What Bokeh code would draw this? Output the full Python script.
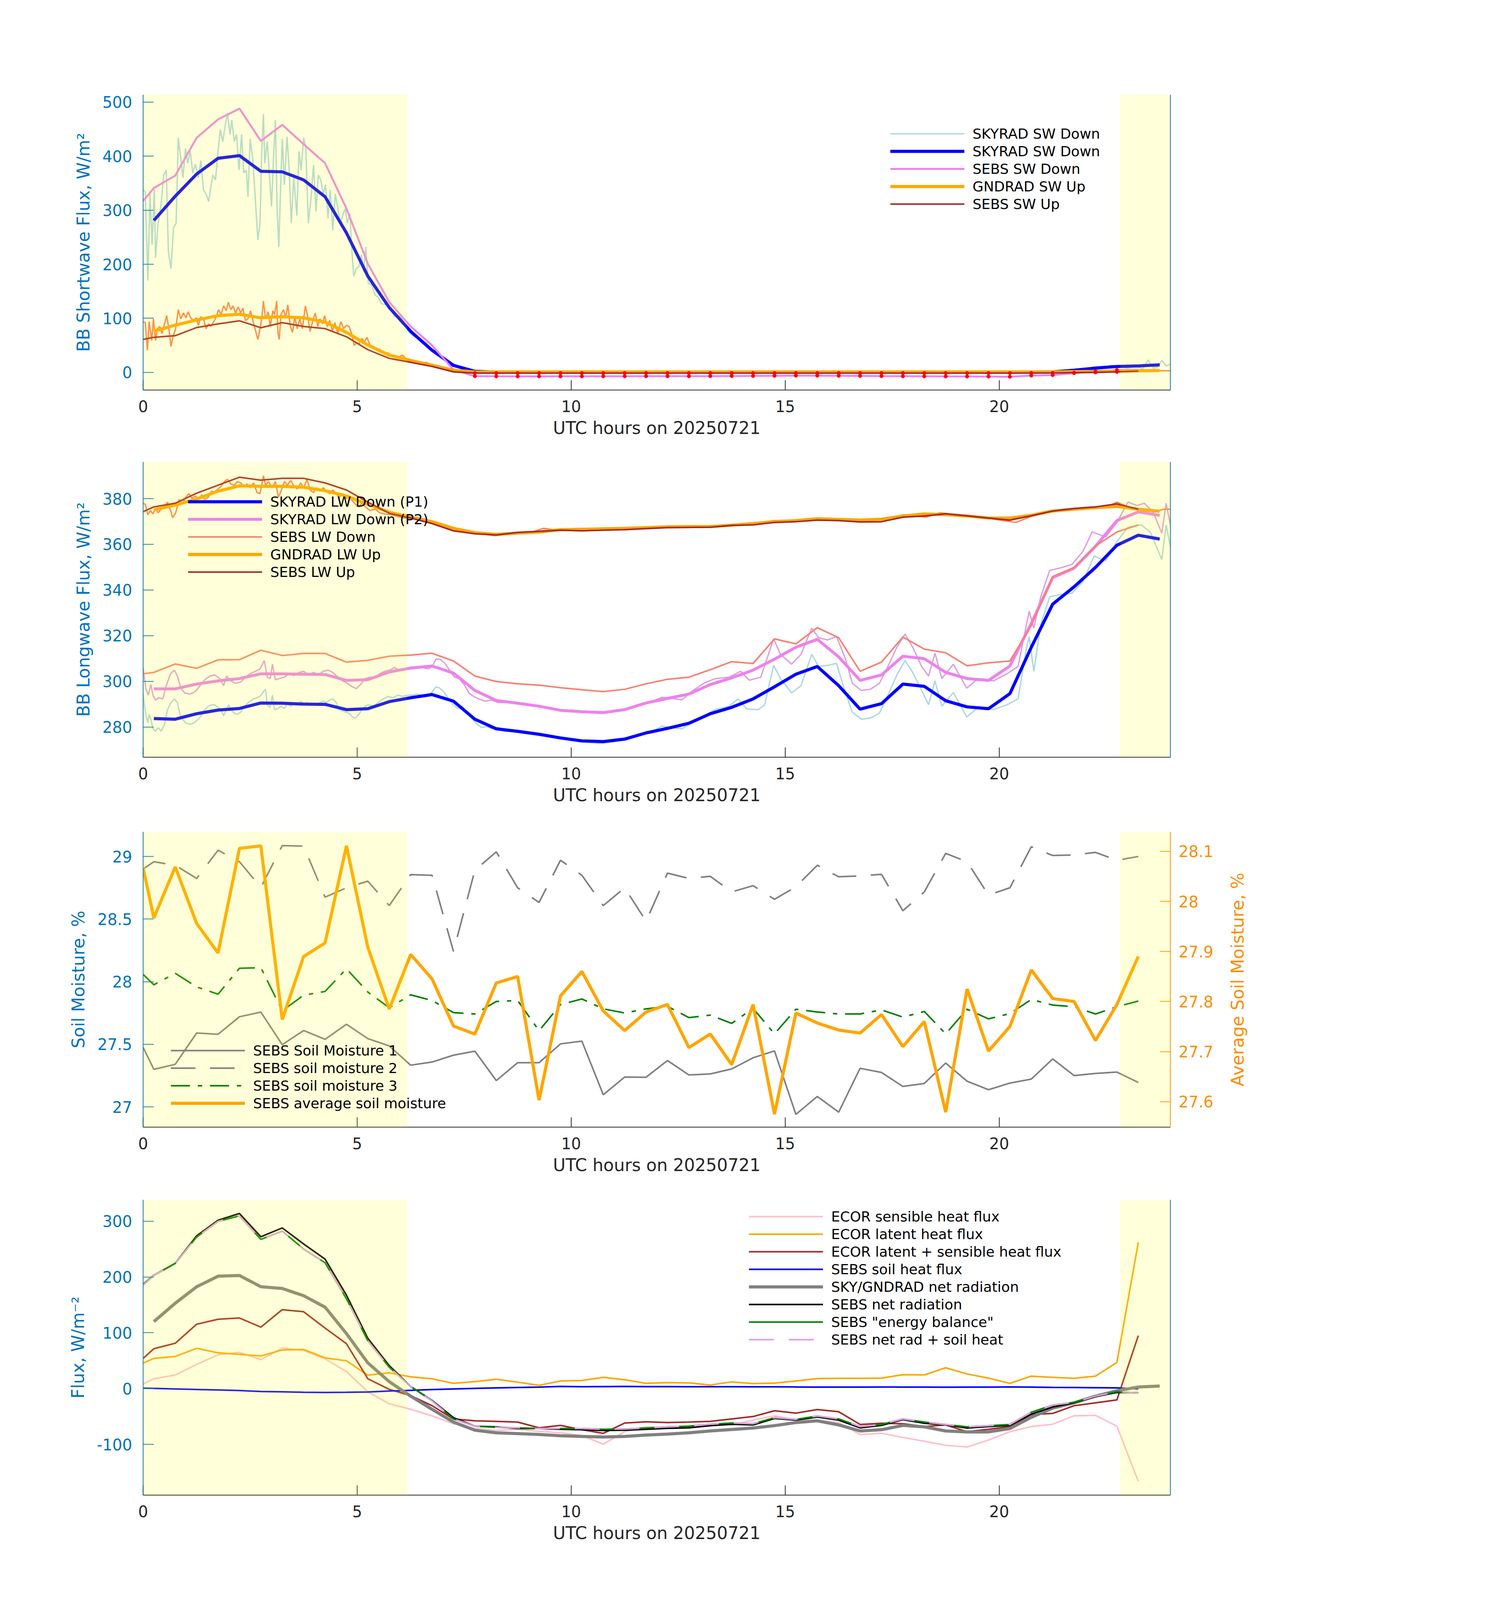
import sys
import math
from bokeh.plotting import figure
from bokeh.models import Range1d, LinearAxis, FixedTicker, Legend, LegendItem, BoxAnnotation
from bokeh.layouts import column, row
from bokeh.core.properties import value
from bokeh.embed import file_html
from bokeh.resources import INLINE

# ------------------------------------------------------------------ data
X_TICKS = [0, 5, 10, 15, 20]
NIGHT_START = [0.0, 22.83]
NIGHT_END = [6.17, 24.0]

SKY_T = [0.25, 0.75, 1.25, 1.75, 2.25, 2.75, 3.25, 3.75, 4.25, 4.75, 5.25, 5.75, 6.25, 6.75, 7.25, 7.75,
         8.25, 8.75, 9.25, 9.75, 10.25, 10.75, 11.25, 11.75, 12.25, 12.75, 13.25, 13.75, 14.25, 14.75,
         15.25, 15.75, 16.25, 16.75, 17.25, 17.75, 18.25, 18.75, 19.25, 19.75, 20.25, 20.75, 21.25,
         21.75, 22.25, 22.75, 23.25, 23.75]
SEBS_T = [0.0, 0.25, 0.75, 1.25, 1.75, 2.25, 2.75, 3.25, 3.75, 4.25, 4.75, 5.25, 5.75, 6.25, 6.75, 7.25,
          7.75, 8.25, 8.75, 9.25, 9.75, 10.25, 10.75, 11.25, 11.75, 12.25, 12.75, 13.25, 13.75, 14.25,
          14.75, 15.25, 15.75, 16.25, 16.75, 17.25, 17.75, 18.25, 18.75, 19.25, 19.75, 20.25, 20.75,
          21.25, 21.75, 22.25, 22.75, 23.25]

# ---- panel 1: shortwave
SW_HR_T = [0.00, 0.05, 0.11, 0.16, 0.21, 0.26, 0.29, 0.35, 0.42, 0.48, 0.54, 0.59, 0.65, 0.71, 0.77, 0.82,
           0.88, 0.93, 0.99, 1.04, 1.10, 1.16, 1.22, 1.29, 1.35, 1.41, 1.47, 1.53, 1.58, 1.63, 1.69, 1.75,
           1.80, 1.86, 1.92, 1.97, 2.03, 2.07, 2.13, 2.18, 2.24, 2.30, 2.35, 2.41, 2.45, 2.50, 2.56, 2.62,
           2.68, 2.73, 2.77, 2.81, 2.84, 2.90, 2.95, 3.00, 3.05, 3.09, 3.13, 3.17, 3.21, 3.25, 3.30, 3.36,
           3.41, 3.46, 3.52, 3.59, 3.64, 3.69, 3.75, 3.80, 3.86, 3.92, 3.98, 4.04, 4.09, 4.15, 4.21, 4.26,
           4.32, 4.37, 4.43, 4.49, 4.55, 4.61, 4.66, 4.72, 4.77, 4.83, 4.87, 4.92, 4.98, 5.04, 5.10, 5.15,
           5.20, 5.26, 5.34, 5.42, 5.49, 5.57, 5.68, 5.79, 5.87, 5.95, 6.02, 6.10, 6.21, 6.32, 6.47, 6.63,
           6.74, 6.89, 7.04, 7.19, 7.35, 7.53, 7.76, 8.00, 21.30, 21.60, 22.00, 22.30, 22.50, 22.60, 22.80,
           23.00, 23.20, 23.35, 23.48, 23.60, 23.70, 23.80, 23.90, 24.00]
SW_HR_DOWN = [338, 334, 170, 330, 236, 338, 212, 276, 312, 365, 374, 223, 192, 267, 276, 434, 396, 360, 414,
              387, 409, 369, 385, 360, 392, 338, 330, 316, 343, 365, 356, 409, 449, 427, 458, 480, 440, 467,
              427, 440, 374, 440, 369, 374, 325, 432, 396, 321, 245, 276, 409, 478, 387, 427, 365, 307, 405,
              467, 303, 232, 338, 432, 347, 436, 378, 276, 360, 290, 409, 374, 434, 414, 276, 321, 383, 298,
              365, 356, 330, 347, 285, 338, 263, 330, 303, 276, 290, 303, 276, 294, 232, 178, 192, 196, 218,
              187, 232, 165, 161, 143, 139, 127, 125, 116, 103, 105, 103, 90, 74, 67, 61, 54, 41, 32, 23, 16,
              10, 4, 2, 0.5, 0.5, 2, 4, 7, 10, 13, 11, 8, 12, 6, 23, 8, 10, 22, 12, 15]
SWUP_HR_T = [0.00, 0.05, 0.10, 0.14, 0.20, 0.24, 0.29, 0.33, 0.39, 0.44, 0.50, 0.55, 0.61, 0.65, 0.70, 0.76,
             0.82, 0.88, 0.94, 1.00, 1.05, 1.11, 1.18, 1.24, 1.29, 1.35, 1.41, 1.47, 1.53, 1.58, 1.65, 1.71,
             1.76, 1.82, 1.88, 1.94, 1.99, 2.05, 2.10, 2.16, 2.22, 2.28, 2.33, 2.39, 2.45, 2.51, 2.57, 2.63,
             2.68, 2.73, 2.77, 2.81, 2.86, 2.92, 2.97, 3.03, 3.07, 3.12, 3.15, 3.18, 3.22, 3.28, 3.33, 3.38,
             3.44, 3.49, 3.54, 3.60, 3.66, 3.72, 3.79, 3.84, 3.90, 3.96, 4.02, 4.08, 4.13, 4.19, 4.24, 4.30,
             4.36, 4.42, 4.48, 4.55, 4.62, 4.68, 4.75, 4.81, 4.87, 4.93, 4.98, 5.05, 5.11, 5.17, 5.23, 5.30,
             5.38, 5.45, 5.53, 5.63, 5.72, 5.83, 5.95, 6.06, 6.17, 6.32, 6.47, 6.63, 6.74, 6.93, 7.12, 7.31,
             7.53, 7.76, 8.00, 21.50, 22.50, 23.00, 23.30, 23.50, 23.75, 24.00]
SW_HR_UP = [94, 92, 41, 94, 59, 99, 59, 81, 85, 72, 90, 105, 76, 48, 67, 81, 116, 99, 110, 101, 112, 101, 96,
            101, 87, 103, 99, 81, 90, 85, 94, 103, 116, 107, 123, 114, 130, 116, 123, 110, 121, 110, 119, 96,
            99, 114, 94, 76, 61, 81, 99, 132, 99, 112, 85, 114, 107, 132, 72, 61, 107, 116, 101, 125, 85, 74,
            103, 81, 99, 81, 123, 105, 76, 94, 110, 85, 99, 90, 105, 85, 96, 76, 92, 72, 94, 81, 87, 85, 72,
            50, 54, 54, 63, 56, 65, 50, 48, 41, 43, 34, 36, 30, 28, 32, 23, 22, 19, 18, 14, 11, 7.5, 4, 2, 1,
            0.8, 0.8, 2, 2.5, 3.5, 4.5, 3, 3]
SKY_SW_DOWN = [281, 326, 367, 396, 401, 372, 371, 356, 325, 258, 178, 120, 76, 41, 13, 2,
               0.5, 0.5, 0.5, 0.5, 0.5, 0.5, 0.5, 0.5, 0.5, 0.5, 0.5, 0.5, 0.5, 0.5, 0.5, 0.5, 0.5, 0.5,
               0.5, 0.5, 0.5, 0.5, 0.5, 0.5, 0.5, 0.5, 1, 4, 8, 11, 12, 14]
GND_SW_UP = [76, 87.5, 97, 105, 107.5, 101, 103, 101, 93, 74, 50.6, 32, 22, 13.3, 4, 1,
             0.8, 0.8, 0.8, 0.8, 0.8, 0.8, 0.8, 0.8, 0.8, 0.8, 0.8, 0.8, 0.8, 0.8, 0.8, 0.8, 0.8, 0.8,
             0.8, 0.8, 0.8, 0.8, 0.8, 0.8, 0.8, 0.8, 1, 1.5, 2, 2.5, 3, 3.5]
SEBS_SW_DOWN = [317, 341, 364, 434, 468, 488, 428, 458, 422, 387, 303, 201, 130, 85, 50, 5, -7,
                -7.2, -7.3, -7.3, -7.2, -7.2, -7.1, -7.1, -7, -7, -7, -6.9, -6.7, -6.5, -6.2, -6, -6,
                -6.2, -6.5, -6.8, -7, -7.2, -7.4, -7.5, -7.6, -8, -5.8, -4.9, -1.3, 1.8, 4.4, 5]
SEBS_SW_UP = [61, 65, 68, 83, 89.7, 95.5, 82.6, 92, 85, 81, 66, 42, 26, 18.6, 11, 1, -1.3,
              -1.3, -1.3, -1.3, -1.3, -1.3, -1.3, -1.3, -1.3, -1.3, -1.3, -1.3, -1.3, -1.3, -1.3, -1.3,
              -1.3, -1.3, -1.3, -1.3, -1.3, -1.3, -1.3, -1.3, -1.3, -1.3, -1.2, -1, -0.5, 0, 1, 2.2]
FLAG_FROM, FLAG_TO = 7.7, 22.8

# ---- panel 2: longwave
LW1_HR_T = [0.00, 0.05, 0.11, 0.14, 0.18, 0.23, 0.29, 0.35, 0.42, 0.50, 0.57, 0.65, 0.73, 0.80, 0.86, 0.92,
            0.99, 1.07, 1.14, 1.22, 1.29, 1.37, 1.44, 1.52, 1.60, 1.67, 1.75, 1.82, 1.88, 1.94, 2.00, 2.05,
            2.13, 2.20, 2.28, 2.35, 2.43, 2.50, 2.58, 2.66, 2.73, 2.81, 2.86, 2.90, 2.96, 3.02, 3.07, 3.15,
            3.22, 3.30, 3.37, 3.45, 3.52, 3.60, 3.68, 3.75, 3.83, 3.90, 3.98, 4.05, 4.13, 4.21, 4.28, 4.36,
            4.43, 4.51, 4.58, 4.66, 4.74, 4.81, 4.89, 4.96, 5.04, 5.11, 5.19, 5.26, 5.38, 5.49, 5.61, 5.72,
            5.83, 5.95, 6.06, 6.17, 6.29, 6.40, 6.51, 6.63, 6.74, 6.84, 6.93, 7.02, 7.12, 7.23, 7.35, 7.46,
            7.57, 7.69, 7.80, 7.91, 8.03, 8.14, 8.29, 8.44, 8.67, 8.90, 9.12, 9.35, 9.58, 9.80, 10.02, 10.33,
            10.65, 10.96, 11.28, 11.59, 11.91, 12.12, 12.32, 12.59, 12.85, 13.11, 13.37, 13.69, 13.90, 14.10,
            14.37, 14.52, 14.73, 14.89, 15.15, 15.37, 15.62, 15.78, 15.99, 16.20, 16.41, 16.57, 16.78, 16.99,
            17.20, 17.40, 17.61, 17.80, 17.98, 18.19, 18.35, 18.50, 18.66, 18.93, 19.24, 19.51, 19.87, 20.18,
            20.44, 20.64, 20.70, 20.81, 20.97, 21.18, 21.42, 21.70, 21.96, 22.22, 22.49, 22.75, 23.01, 23.32,
            23.53, 23.80, 23.90, 24.00]
LW1_HR = [294.4, 286.6, 281.8, 285.5, 283.4, 279.2, 278.1, 279.7, 278.1, 281.3, 287.6, 290.7, 292.3, 290.7,
          285.5, 283.4, 281.8, 281.3, 281.3, 282.3, 283.4, 285.5, 287.6, 289.1, 289.7, 289.7, 288.6, 287.6,
          284.9, 287.6, 289.7, 287.6, 286, 285.5, 286.5, 288.6, 290.2, 291.3, 292.3, 292.8, 293.4, 295.5,
          296.5, 289.7, 288.6, 293.9, 287.6, 288.1, 289.1, 288.1, 290.2, 289.1, 290.2, 289.7, 291.3, 290.2,
          290.7, 289.7, 290.2, 289.7, 290.7, 291.3, 290.7, 291.8, 292.3, 290.7, 287.6, 287, 286.5, 286, 284.4,
          283.9, 285.5, 287.6, 289.1, 289.7, 289.1, 290.7, 292.3, 293.4, 292.8, 293.9, 293.4, 293.9, 293.9,
          294.4, 293.9, 293.4, 295, 297.6, 297, 295.5, 292.8, 290.2, 288.1, 289.1, 286, 283.4, 281.3, 279.7,
          280.2, 279.2, 279.7, 278.1, 278.1, 277.6, 277.6, 276.5, 275.5, 274.9, 274.4, 273.4, 272.8, 273.4,
          274.4, 276.5, 278.1, 280.4, 279.7, 279.2, 282.3, 284.9, 287.6, 289.1, 292.3, 287.9, 287.6, 289.7,
          307, 301.2, 294.9, 298.1, 311.8, 306.5, 307, 307.8, 294.9, 286.5, 283.4, 283.9, 286, 293.9, 302.8,
          309.1, 303.9, 296, 289.7, 300.2, 289.1, 295.1, 284.4, 288.6, 287.6, 289.7, 292.3, 314.9, 319.6,
          304.4, 324.9, 337, 338, 338.6, 343.8, 354.9, 352.8, 361.2, 367.5, 368.5, 365.4, 353.3, 368.5, 359]
LW2_HR_T = [0.00, 0.06, 0.12, 0.18, 0.23, 0.29, 0.36, 0.46, 0.54, 0.64, 0.73, 0.80, 0.88, 0.97, 1.10, 1.22,
            1.33, 1.44, 1.56, 1.67, 1.79, 1.88, 1.95, 2.05, 2.16, 2.28, 2.39, 2.50, 2.62, 2.73, 2.83, 2.90,
            2.97, 3.02, 3.09, 3.18, 3.30, 3.41, 3.52, 3.64, 3.75, 3.87, 3.98, 4.09, 4.21, 4.32, 4.43, 4.55,
            4.66, 4.77, 4.89, 4.98, 5.08, 5.19, 5.30, 5.42, 5.53, 5.64, 5.76, 5.87, 5.98, 6.10, 6.25, 6.40,
            6.55, 6.66, 6.76, 6.84, 6.93, 7.04, 7.16, 7.27, 7.38, 7.50, 7.61, 7.72, 7.84, 7.99, 8.14, 8.29,
            8.52, 8.74, 8.97, 9.20, 9.43, 9.65, 9.88, 10.02, 10.33, 10.65, 10.96, 11.28, 11.59, 11.91, 12.12,
            12.32, 12.59, 12.85, 13.11, 13.37, 13.69, 13.96, 14.16, 14.43, 14.73, 14.89, 15.15, 15.37, 15.62,
            15.78, 15.99, 16.20, 16.41, 16.57, 16.78, 16.99, 17.20, 17.40, 17.61, 17.80, 17.98, 18.19, 18.35,
            18.50, 18.66, 18.93, 19.24, 19.51, 19.87, 20.18, 20.44, 20.70, 20.81, 20.97, 21.18, 21.42, 21.70,
            21.96, 22.17, 22.49, 22.75, 23.01, 23.22, 23.39, 23.59, 23.80, 23.90, 24.00]
LW2_HR = [306, 297, 293.9, 298.6, 293.9, 291.8, 292.8, 292.3, 298.1, 303.3, 304.9, 302.3, 297, 294.9, 294.4,
          295.5, 298.1, 300.7, 302.3, 302.8, 301.2, 298.1, 302.3, 300.2, 299.1, 299.7, 301.8, 303.3, 304.4,
          305.4, 309.1, 301.8, 301.2, 307.5, 300.7, 301.2, 301.8, 303.3, 302.5, 303.9, 304.4, 302.8, 303.9,
          302.8, 304.4, 304.9, 303.9, 301.8, 300.2, 299.1, 297.6, 296.8, 298.6, 301.2, 301.8, 301.8, 303.3,
          304.4, 304.9, 306, 304.9, 305.4, 306.2, 306, 306, 305.4, 306.7, 309.7, 309.7, 308.1, 304.9, 301.8,
          301.2, 298.6, 294.9, 293.4, 292.3, 291.3, 291.8, 290.7, 290.7, 290.2, 289.7, 289.1, 288.6, 287.6,
          287, 287.4, 286.5, 286, 286.5, 287.6, 289.7, 291.3, 293, 292.6, 291.9, 296, 299.3, 301.2, 301.8,
          304.4, 300.5, 301.8, 318.6, 311.8, 307.5, 311.8, 323.3, 319.1, 318.1, 319.6, 309.7, 299.1, 296,
          296.5, 299.1, 306.5, 314.9, 320.7, 314.9, 306.5, 302.3, 312.3, 301.2, 307.5, 297, 301.2, 300.2,
          303.3, 306.5, 330.7, 323.3, 337, 348.6, 349.6, 351.2, 357, 365.4, 363.3, 369.6, 378.5, 377, 378,
          374.3, 364.9, 378, 368.5]
LWUP_HR_T = [0.00, 0.05, 0.11, 0.17, 0.23, 0.29, 0.35, 0.42, 0.50, 0.57, 0.64, 0.69, 0.76, 0.84, 0.92, 0.99,
             1.07, 1.14, 1.22, 1.29, 1.37, 1.44, 1.52, 1.60, 1.67, 1.75, 1.82, 1.90, 1.97, 2.05, 2.13, 2.20,
             2.28, 2.35, 2.43, 2.50, 2.58, 2.66, 2.73, 2.81, 2.86, 2.93, 3.01, 3.09, 3.16, 3.22, 3.30, 3.37,
             3.45, 3.52, 3.60, 3.68, 3.75, 3.83, 3.90, 3.98, 4.05, 4.13, 4.21, 4.28, 4.36, 4.43, 4.51, 4.58,
             4.66, 4.74, 4.81, 4.89, 4.96, 5.04, 5.11, 5.19, 5.30, 5.42, 5.53, 5.64, 5.79, 5.95, 6.10, 6.25,
             6.40, 6.55, 6.74, 6.93, 7.12, 7.31, 7.53, 7.76, 7.99, 8.22, 8.44, 8.67, 8.90, 9.12, 9.35, 9.58,
             9.80, 10.02, 11.07, 12.12, 13.16, 14.21, 14.73, 15.78, 16.83, 17.35, 17.77, 18.30, 18.61, 19.45,
             20.39, 20.81, 21.33, 21.96, 22.49, 22.75, 23.01, 23.32, 23.64, 23.85, 24.00]
LWUP_HR = [378, 377.5, 373, 374.8, 373.3, 375.9, 373.8, 375.4, 376.7, 378.5, 374.8, 371.7, 373.8, 379.6, 378,
           380.6, 382.2, 380.1, 381.2, 379.6, 381.7, 379.6, 380.6, 383.3, 382.7, 384.3, 385.4, 387.5, 388.5,
           386.4, 385.9, 387.5, 386.9, 385.4, 386.4, 384.8, 386.9, 382.7, 382.2, 390.1, 385.9, 387.5, 384.8,
           387.5, 380.6, 383.3, 387.5, 385.9, 388, 385.4, 384.3, 386.9, 384.8, 388.5, 383.8, 382.7, 384.8,
           383.3, 384.8, 383.3, 382.2, 383.8, 382.2, 380.6, 382.2, 380.1, 380.6, 379.1, 377.5, 376.4, 378,
           376.4, 374.8, 375.4, 373.8, 373.3, 373, 372.2, 371.5, 371.5, 371.2, 370.4, 369.6, 368.5, 367.5,
           366.4, 365.6, 364.9, 364.3, 363.8, 364.3, 364.9, 365.4, 365.6, 367, 366.4, 366.6, 366.8, 367, 367.5,
           367.7, 369.1, 370.4, 370.8, 370.8, 370.8, 373, 371.9, 373.8, 372.2, 369.6, 372.7, 374.8, 375.4,
           376.1, 378.5, 376.4, 374.8, 374.3, 375.4, 375.4]
SKY_LW_P1 = [283.7, 283.4, 285.8, 287.4, 288.1, 290.5, 290.4, 290, 289.9, 287.6, 288, 291.1, 292.8, 294.2,
             291.3, 283.4, 279.2, 278.1, 276.8, 275.2, 273.9, 273.6, 274.7, 277.4, 279.4, 281.6, 285.8, 288.6,
             292.3, 297.6, 303.1, 306.5, 298.1, 287.8, 290.2, 298.8, 297.8, 291.5, 288.8, 288.0, 294.6, 314.9,
             333.8, 341.4, 349.9, 359.6, 364.0, 362.3]
SKY_LW_P2 = [296.7, 296.7, 298.8, 300.2, 301.2, 303.3, 303.3, 303.1, 303, 300.4, 300.7, 304.1, 305.8, 306.7,
             303.6, 296, 291.6, 290.4, 289.1, 287.3, 286.7, 286.3, 287.6, 290.5, 292.5, 294.4, 298.6, 301.5,
             304.9, 309.7, 314.9, 318.4, 310.7, 300.4, 302.8, 311, 309.9, 303.9, 301.2, 300.4, 306.7, 325.4,
             345.4, 349.6, 359.1, 370.4, 374.2, 372.7]
SEBS_LW_DOWN = [303.3, 303.9, 307.6, 305.7, 309.4, 309.5, 313.6, 311.3, 312.2, 312.2, 308.4, 309.2, 311,
                311.5, 312.3, 308.9, 302.3, 299.9, 298.9, 298.3, 297.2, 296.3, 295.5, 296.5, 298.9, 300.9,
                301.8, 305.1, 308.6, 307.8, 318.6, 316.4, 323.5, 319.1, 304.4, 308.4, 319.4, 314.1, 312.5,
                306.8, 308.1, 308.9, 324.4, 345.9, 349.8, 359.3, 365.4, 368.5]
GND_LW_UP = [375.1, 377.2, 379.8, 383.3, 385.6, 385.4, 385.4, 385, 383.5, 381.2, 377.5, 374.1, 371.9, 369.9,
             367, 365.1, 364.3, 364.9, 365.4, 366.4, 366.6, 366.8, 367, 367.3, 367.7, 367.8, 367.8, 368.4,
             369.1, 369.9, 370.4, 371.2, 370.9, 370.6, 371, 372.4, 373.3, 373, 372.4, 371.5, 371.5, 372.7,
             374.6, 375.4, 376.1, 376.6, 375.4, 374.5]
SEBS_LW_UP = [374.3, 376.4, 378, 382.4, 385.9, 389.4, 388.1, 388.9, 388.9, 386.9, 383.8, 378.5, 373.6, 371.5,
              369.1, 365.9, 364.6, 364.1, 365.2, 365.7, 366.2, 365.9, 366.2, 366.4, 366.9, 367.3, 367.4,
              367.5, 368.3, 368.5, 369.6, 369.9, 370.6, 370.4, 369.8, 369.9, 371.9, 372.4, 373.4, 372.5,
              371.5, 370.6, 372.5, 374.6, 375.7, 376.4, 377.7, 375.4]

# ---- panel 3: soil moisture
SM1 = [27.475, 27.3, 27.34, 27.59, 27.58, 27.72, 27.757, 27.497, 27.61, 27.54, 27.66, 27.545, 27.487, 27.333,
       27.358, 27.413, 27.445, 27.21, 27.353, 27.353, 27.503, 27.525, 27.097, 27.238, 27.237, 27.37, 27.255,
       27.263, 27.303, 27.392, 27.447, 26.94, 27.083, 26.958, 27.308, 27.275, 27.163, 27.187, 27.35, 27.205,
       27.137, 27.19, 27.222, 27.383, 27.25, 27.267, 27.278, 27.195]
SM2 = [28.9, 28.958, 28.93, 28.825, 29.05, 28.958, 28.753, 29.087, 29.083, 28.675, 28.75, 28.803, 28.608,
       28.855, 28.85, 28.242, 28.89, 29.037, 28.75, 28.633, 28.97, 28.85, 28.608, 28.75, 28.483, 28.867,
       28.825, 28.842, 28.717, 28.767, 28.658, 28.758, 28.93, 28.838, 28.845, 28.858, 28.567, 28.717, 29.025,
       28.958, 28.692, 28.75, 29.078, 29.008, 29.012, 29.033, 28.97, 29.0]
SM3 = [28.058, 27.975, 28.067, 27.958, 27.9, 28.107, 28.112, 27.767, 27.892, 27.922, 28.103, 27.917, 27.792,
       27.895, 27.85, 27.753, 27.742, 27.842, 27.85, 27.608, 27.817, 27.862, 27.783, 27.75, 27.783, 27.803,
       27.713, 27.733, 27.667, 27.787, 27.583, 27.78, 27.758, 27.742, 27.742, 27.775, 27.717, 27.762, 27.583,
       27.78, 27.703, 27.745, 27.858, 27.813, 27.8, 27.742, 27.8, 27.845]
SM_AVG = [28.067, 27.967, 28.069, 27.956, 27.897, 28.106, 28.111, 27.764, 27.89, 27.917, 28.111, 27.908,
          27.785, 27.894, 27.845, 27.751, 27.735, 27.837, 27.85, 27.603, 27.811, 27.86, 27.781, 27.742, 27.779,
          27.794, 27.708, 27.735, 27.674, 27.794, 27.575, 27.777, 27.757, 27.743, 27.737, 27.774, 27.71, 27.76,
          27.579, 27.825, 27.701, 27.75, 27.863, 27.806, 27.8, 27.722, 27.794, 27.89]

# ---- panel 4: energy fluxes
ECOR_SH = [8.1, 17.5, 24.4, 43.4, 60.6, 64.9, 52, 72.7, 68.4, 53.3, 30.5, -5.7, -27.2, -37.1, -48.8, -63,
           -71.6, -75, -72.9, -76.7, -79.3, -84, -99.6, -77.2, -68.6, -70.7, -68.6, -65.1, -65.1, -56.5, -48.8,
           -56.5, -56.5, -60.8, -82.3, -80.2, -87.5, -94.4, -101.7, -104.7, -92.2, -77.2, -68.1, -63.8, -48.8,
           -47.9, -67.3, -166.3]
ECOR_LH = [45.5, 54.1, 57.6, 72.2, 64, 61.5, 58.4, 69.2, 70.1, 55, 49.8, 24, 28.3, 21, 17.5, 9.4, 12.4, 16.7,
           11.5, 5.9, 13.6, 14.5, 20.1, 15.8, 9.4, 10.7, 10.2, 6.4, 12, 9, 9.8, 13.6, 17.9, 18.4, 18.4, 18.8,
           24.9, 24.5, 37.3, 26.2, 18.8, 9.4, 22.3, 20.1, 18.4, 22.3, 46.8, 262.1]
ECOR_LHSH = [54.1, 71.4, 81.3, 115.3, 124.3, 126.5, 110.1, 141.5, 137.7, 108.4, 80.4, 17.5, -1.4, -12.6,
             -30.7, -54.4, -57.8, -58.7, -60, -70.3, -66, -73.7, -80.2, -61.7, -59.5, -60.8, -60, -58.7, -54.4,
             -50.1, -39.7, -44, -37.6, -41.5, -64.3, -62.1, -63, -68.1, -65.1, -77.2, -72.9, -68.1, -46.6,
             -44.5, -30.7, -25.5, -20.3, 95]
SEBS_G = [0.8, 0.3, -0.6, -1.6, -2.5, -3.5, -5.3, -5.7, -6.6, -7, -6.6, -6.1, -4.4, -3.1, -1.8, -0.6, 0.4,
          1.2, 2, 2.6, 3.9, 3.4, 3.6, 3.9, 3.6, 3.6, 3.4, 3.4, 3.3, 3.2, 3.1, 2.9, 2.6, 2.6, 2.6, 2.8, 2.7, 2.6,
          2.4, 2.6, 2.6, 3, 2.7, 2.2, 2.0, 1.6, 1.2, -0.5]
SKY_NET = [120, 153, 182.5, 201.4, 202.7, 182.5, 179.4, 166.5, 145.9, 98.5, 46, 12.4, -13.5, -37.1, -60, -74.6,
           -79.3, -80.6, -82.3, -84.5, -85.8, -86.7, -85.8, -83.2, -81.5, -79.3, -75.9, -73.3, -70.7, -66.4,
           -60.8, -57.8, -65.1, -75.9, -73.7, -66, -68.6, -75.9, -77.6, -77.6, -71.6, -51.4, -35, -25.5, -13.5,
           -4, 2.9, 4.6]
SEBS_NET = [186.8, 203.1, 224.6, 273.7, 301.7, 313.8, 272, 287.9, 259.1, 232, 167.4, 89.9, 41.2, 3.8, -21.2,
            -52.2, -67.3, -68.6, -71.6, -71.6, -73, -73.7, -75, -74.6, -72.9, -71.2, -70.3, -66.4, -63.8, -65.1,
            -53.5, -56.5, -50.9, -56.5, -70.3, -66, -55.7, -62.1, -65.1, -70.7, -68.1, -66, -45.8, -32.9, -25.5,
            -14.3, -7, -7.5]
SEBS_EB = [185.5, 202.7, 224.2, 271.6, 299.6, 309.5, 267.3, 282.3, 250, 225.5, 160.9, 85.6, 38.2, 3.8, -22,
           -54.4, -67.3, -69.4, -70.3, -71.6, -71.6, -71.6, -72.9, -72.4, -70.7, -68.6, -67.3, -63.8, -61.7, -63,
           -52.2, -55.2, -49.2, -54.4, -68.1, -64.3, -54.4, -60, -64.3, -68.6, -66.4, -64.3, -42.4, -29.5, -24.8,
           -13.5, -5.7, -7.9]
SEBS_NET_G = [185.5, 202.7, 224.2, 271.6, 299.6, 309.5, 267.3, 282.3, 250, 225.5, 160.9, 85.6, 38.2, 3.8, -22,
              -54.4, -67.3, -69.4, -70.3, -71.6, -71.6, -71.6, -72.9, -72.4, -70.7, -68.6, -67.3, -63.8, -61.7,
              -63, -52.2, -55.2, -49.2, -54.4, -68.1, -64.3, -54.4, -60, -64.3, -68.6, -66.4, -64.3, -42.4,
              -29.5, -24.8, -13.5, -5.7, -7.9]

AVG_LABEL = ["Average Soil Moisture, %"]

# ------------------------------------------------------------------ style
FONT = "DejaVu Sans"
AX_BLUE = "#0072BD"
AX_DARK = "#262626"
AX_ORANGE = "#FF8C00"
FW, FH = 2630, 756
THICK, THIN, HR = 8, 4, 3.5
LEG_GAP = 3


def xy(t, v):
    n = min(len(t), len(v))
    if len(t) != len(v):
        print("length mismatch", len(t), len(v), file=sys.stderr)
    return t[:n], v[:n]


def lbl(t):
    return ("%g" % t)


def make_fig(y0, y1, top, ylabel, yticks, right_line=True, right_border=300):
    p = figure(frame_width=FW, frame_height=FH, x_range=Range1d(0, 24), y_range=Range1d(y0, y1),
               output_backend="svg", toolbar_location=None,
               min_border_left=366, min_border_right=right_border, min_border_top=top,
               min_border_bottom=150, background_fill_color="white", border_fill_color="white")
    p.outline_line_color = None
    p.xgrid.visible = False
    p.ygrid.visible = False
    xa = p.xaxis[0]
    xa.ticker = FixedTicker(ticks=X_TICKS)
    xa.axis_label = "UTC hours on 20250721"
    xa.axis_label_text_font = FONT
    xa.axis_label_text_font_size = "44px"
    xa.axis_label_text_font_style = "normal"
    xa.axis_label_text_color = AX_DARK
    xa.axis_label_standoff = 12
    xa.major_label_text_font = FONT
    xa.major_label_text_font_size = "40px"
    xa.major_label_text_color = AX_DARK
    xa.major_label_standoff = 26
    xa.axis_line_color = AX_DARK
    xa.axis_line_width = 2
    xa.major_tick_line_color = AX_DARK
    xa.major_tick_line_width = 2
    xa.major_tick_in = 25
    xa.major_tick_out = 0
    xa.minor_tick_line_color = None
    ya = p.yaxis[0]
    ya.ticker = FixedTicker(ticks=yticks)
    ya.major_label_overrides = {t: lbl(t) for t in yticks}
    ya.axis_label = ylabel
    ya.axis_label_text_font = FONT
    ya.axis_label_text_font_size = "44px"
    ya.axis_label_text_font_style = "normal"
    ya.axis_label_text_color = AX_BLUE
    ya.axis_label_standoff = 20
    ya.major_label_text_font = FONT
    ya.major_label_text_font_size = "40px"
    ya.major_label_text_color = AX_BLUE
    ya.major_label_standoff = 28
    ya.axis_line_color = AX_BLUE
    ya.axis_line_width = 2
    ya.major_tick_line_color = AX_BLUE
    ya.major_tick_line_width = 2
    ya.major_tick_in = 27
    ya.major_tick_out = 0
    ya.minor_tick_line_color = None
    if right_line:
        ra = LinearAxis(ticker=FixedTicker(ticks=[]), axis_line_color=AX_BLUE, axis_line_width=2,
                        major_tick_line_color=None, minor_tick_line_color=None,
                        major_label_text_font_size="0px")
        p.add_layout(ra, "right")
    return p


def shade(p):
    for s, e in zip(NIGHT_START, NIGHT_END):
        p.add_layout(BoxAnnotation(left=s, right=e, fill_color="#FFFF00", fill_alpha=0.15,
                                   line_alpha=0))


def legend(p, items, loc):
    leg = Legend(items=[LegendItem(label=l, renderers=[r]) for l, r in items], location=loc)
    leg.label_text_font = FONT
    leg.label_text_font_size = "36px"
    leg.label_text_color = "black"
    leg.glyph_width = 190
    leg.glyph_height = 42
    leg.label_height = 42
    leg.label_standoff = 21
    leg.spacing = LEG_GAP
    leg.padding = 0
    leg.margin = 0
    leg.border_line_color = None
    leg.background_fill_alpha = 0
    p.add_layout(leg)


# ------------------------------------------------------------------ panel 1
p1 = make_fig(-32.6, 513.6, 242, "BB Shortwave Flux, W/m\u00b2", [0, 100, 200, 300, 400, 500])
r_hr = p1.line(*xy(SW_HR_T, SW_HR_DOWN), line_color="#ADD8E6", line_width=HR)
p1.line(*xy(SWUP_HR_T, SW_HR_UP), line_color="#FF7F50", line_width=HR)
r_sky = p1.line(*xy(SKY_T, SKY_SW_DOWN), line_color="#0000FF", line_width=THICK)
r_sebsd = p1.line(*xy(SEBS_T, SEBS_SW_DOWN), line_color="#EE82EE", line_width=5)
r_gnd = p1.line(*xy(SKY_T, GND_SW_UP), line_color="#FFA500", line_width=THICK)
r_sebsu = p1.line(*xy(SEBS_T, SEBS_SW_UP), line_color="#A52A2A", line_width=THIN)
flag_t = [t for t in SEBS_T if FLAG_FROM <= t <= FLAG_TO]
flag_d = [v for t, v in zip(SEBS_T, SEBS_SW_DOWN) if FLAG_FROM <= t <= FLAG_TO]
flag_u = [v for t, v in zip(SEBS_T, SEBS_SW_UP) if FLAG_FROM <= t <= FLAG_TO]
p1.scatter(flag_t, flag_d, size=9, color="#FF0000")
p1.scatter(flag_t, flag_u, size=9, color="#FF0000")
shade(p1)
legend(p1, [("SKYRAD SW Down", r_hr), ("SKYRAD SW Down", r_sky), ("SEBS SW Down", r_sebsd),
            ("GNDRAD SW Up", r_gnd), ("SEBS SW Up", r_sebsu)], (1913, 455))

# ------------------------------------------------------------------ panel 2
p2 = make_fig(266.75, 396.1, 34, "BB Longwave Flux, W/m\u00b2", [280, 300, 320, 340, 360, 380])
p2.line(*xy(LW1_HR_T, LW1_HR), line_color="#ADD8E6", line_width=HR)
p2.line(*xy(LW2_HR_T, LW2_HR), line_color="#DDA0DD", line_width=HR)
p2.line(*xy(LWUP_HR_T, LWUP_HR), line_color="#FF7F50", line_width=HR)
r1 = p2.line(*xy(SKY_T, SKY_LW_P1), line_color="#0000FF", line_width=THICK)
r2 = p2.line(*xy(SKY_T, SKY_LW_P2), line_color="#EE82EE", line_width=7.5)
r3 = p2.line(*xy(SEBS_T, SEBS_LW_DOWN), line_color="#FA8072", line_width=THIN)
r4 = p2.line(*xy(SKY_T, GND_LW_UP), line_color="#FFA500", line_width=THICK)
r5 = p2.line(*xy(SEBS_T, SEBS_LW_UP), line_color="#A52A2A", line_width=THIN)
shade(p2)
legend(p2, [("SKYRAD LW Down (P1)", r1), ("SKYRAD LW Down (P2)", r2), ("SEBS LW Down", r3),
            ("GNDRAD LW Up", r4), ("SEBS LW Up", r5)], (115, 453))

# ------------------------------------------------------------------ panel 3
p3 = make_fig(26.838, 29.197, 41, "Soil Moisture, %", [27, 27.5, 28, 28.5, 29], right_line=False,
              right_border=140)
AVG_TICKS = [27.6, 27.7, 27.8, 27.9, 28.0, 28.1]
p3.extra_y_ranges = {"avg": Range1d(27.549, 28.139)}
rax = LinearAxis(y_range_name="avg", ticker=FixedTicker(ticks=AVG_TICKS))
rax.major_label_overrides = {t: lbl(t) for t in AVG_TICKS}
rax.major_label_text_font = FONT
rax.major_label_text_font_size = "40px"
rax.major_label_text_color = AX_ORANGE
rax.major_label_standoff = 21
rax.axis_line_color = AX_ORANGE
rax.axis_line_width = 2
rax.major_tick_line_color = AX_ORANGE
rax.major_tick_line_width = 2
rax.major_tick_in = 27
rax.major_tick_out = 0
rax.minor_tick_line_color = None
p3.add_layout(rax, "right")
s1 = p3.line(*xy(SEBS_T, SM1), line_color="#808080", line_width=THIN)
s2 = p3.line(*xy(SEBS_T, SM2), line_color="#808080", line_width=THIN, line_dash="63 37")
s3 = p3.line(*xy(SEBS_T, SM3), line_color="#008000", line_width=THIN, line_dash="49 20 11 20")
s4 = p3.line(*xy(SEBS_T, SM_AVG), line_color="#FFA500", line_width=THICK, y_range_name="avg")
shade(p3)
legend(p3, [("SEBS Soil Moisture 1", s1), ("SEBS soil moisture 2", s2), ("SEBS soil moisture 3", s3),
            ("SEBS average soil moisture", s4)], (71, 40))

# right-hand axis title of panel 3 (reads bottom-to-top, as in the reference)
p3r = figure(frame_width=80, frame_height=FH, x_range=Range1d(0, 1), y_range=Range1d(0, 1),
             output_backend="svg", toolbar_location=None, x_axis_location=None, y_axis_location=None,
             min_border_left=0, min_border_right=0, min_border_top=41, min_border_bottom=150,
             background_fill_color="white", border_fill_color="white")
p3r.outline_line_color = None
for g in p3r.grid:
    g.visible = False
for g in p3r.xgrid:
    g.visible = False
for g in p3r.ygrid:
    g.visible = False
p3r.text(x=[0.4], y=[0.5], text=AVG_LABEL, angle=math.pi / 2, text_align="center",
         text_baseline="middle", text_font=value(FONT), text_font_size=value("44px"),
         text_color=AX_ORANGE)

# ------------------------------------------------------------------ panel 4
p4 = make_fig(-190.9, 338.3, 36, "Flux, W/m\u207b\u00b2", [-100, 0, 100, 200, 300])
e1 = p4.line(*xy(SEBS_T, ECOR_SH), line_color="#FFC0CB", line_width=THIN)
e2 = p4.line(*xy(SEBS_T, ECOR_LH), line_color="#FFA500", line_width=THIN)
e3 = p4.line(*xy(SEBS_T, ECOR_LHSH), line_color="#A52A2A", line_width=THIN)
e4 = p4.line(*xy(SEBS_T, SEBS_G), line_color="#0000FF", line_width=THIN)
e5 = p4.line(*xy(SKY_T, SKY_NET), line_color="#808080", line_width=THICK)
e6 = p4.line(*xy(SEBS_T, SEBS_NET), line_color="#000000", line_width=THIN)
e7 = p4.line(*xy(SEBS_T, SEBS_EB), line_color="#008000", line_width=THIN)
e8 = p4.line(*xy(SEBS_T, SEBS_NET_G), line_color="#DDA0DD", line_width=THIN, line_dash="64 38")
shade(p4)
legend(p4, [("ECOR sensible heat flux", e1), ("ECOR latent heat flux", e2),
            ("ECOR latent + sensible heat flux", e3), ("SEBS soil heat flux", e4),
            ("SKY/GNDRAD net radiation", e5), ("SEBS net radiation", e6),
            ("SEBS \"energy balance\"", e7), ("SEBS net rad + soil heat", e8)], (1551, 377))

layout = column(p1, p2, row(p3, p3r), p4)
open("out.html", "w").write(file_html(layout, INLINE))
